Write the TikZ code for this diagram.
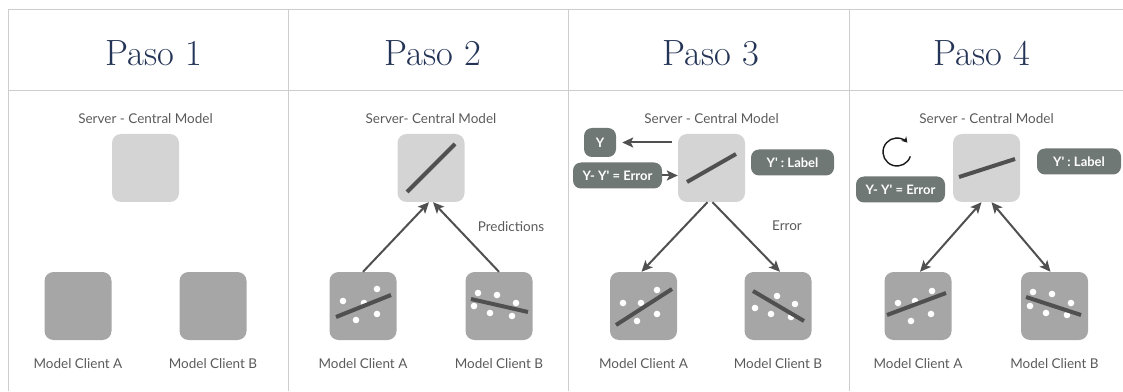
\documentclass[tikz,border=0pt]{standalone}
\usepackage{fontspec}
\newfontfamily\lato{Lato}
\usepackage{tikz}
\usepackage{xcolor}
\definecolor{GridGray}{RGB}{205,205,205}
\definecolor{HeadBlue}{RGB}{36,52,86}
\definecolor{ServerGray}{RGB}{212,212,212}
\definecolor{ClientGray}{RGB}{166,166,166}
\definecolor{TagGray}{RGB}{112,120,117}
\definecolor{InkGray}{RGB}{80,80,80}
\definecolor{TextGray}{RGB}{90,90,90}
\usetikzlibrary{positioning,arrows.meta}

\begin{document}
\begin{tikzpicture}[x=1pt, y=1pt,
    tabline/.style={draw=GridGray, line width=1pt},
    paso/.style={anchor=base, text=HeadBlue, font=\fontsize{36.5}{42}\selectfont},
    srv/.style={rectangle, fill=ServerGray, rounded corners=9pt,
              minimum width=67pt, minimum height=68pt, inner sep=0pt},
    cli/.style={rectangle, fill=ClientGray, rounded corners=9pt,
              minimum width=67pt, minimum height=68pt, inner sep=0pt},
    txt/.style={text=TextGray, inner sep=0pt, font=\lato\fontsize{13.5}{16}\selectfont},
    tagbox/.style={rectangle, fill=TagGray, rounded corners=8pt, minimum height=26pt,
              inner sep=0pt, text=white, font=\lato\bfseries\fontsize{13}{15}\selectfont},
    fitline/.style={draw=InkGray, line width=4pt},
    dot/.style={fill=white},
    a/.style={-{Stealth[length=11pt, width=10pt, inset=2.5pt]}, draw=InkGray, line width=2pt},
    aa/.style={{Stealth[length=11pt, width=10pt, inset=2.5pt]}-{Stealth[length=11pt, width=10pt, inset=2.5pt]},
              draw=InkGray, line width=2pt}
]
    \useasboundingbox (0,0) rectangle (1123,391);

    % table
    \draw[tabline] (8,381) -- (1123,381);
    \draw[tabline] (8,300) -- (1123,300);
    \foreach \x in {8,288,568,849}
        \draw[tabline] (\x,381) -- (\x,0);

    \node[paso] (h1) at (154,325) {Paso 1};
    \node[paso] (h2) at (433,325) {Paso 2};
    \node[paso] (h3) at (711,325) {Paso 3};
    \node[paso] (h4) at (982,325) {Paso 4};

    % Paso 1
    \node[srv] (srv1) at (145.5,223) {};
    \node[txt, above=10pt of srv1] (t1) {Server - Central Model};
    \node[cli] (cA1) at (78,85) {};
    \node[cli] (cB1) at (213,85) {};
    \node[txt, below=18pt of cA1] (lA1) {Model Client A};
    \node[txt, below=18pt of cB1] (lB1) {Model Client B};

    % Paso 2
    \node[srv] (srv2) at (431,223) {};
    \node[txt, above=10pt of srv2] (t2) {Server- Central Model};
    \node[cli] (cA2) at (363,85) {};
    \node[cli] (cB2) at (499,85) {};
    \node[txt, below=18pt of cA2] (lA2) {Model Client A};
    \node[txt, below=18pt of cB2] (lB2) {Model Client B};
    \draw[fitline] ([shift={(-24,-24)}]srv2.center) -- ([shift={(24,24)}]srv2.center);
    \begin{scope}[shift={(cA2.center)}]
        \foreach \px/\py in {-20/5, 1/3, 14/17, -7/-14, 14/-8}
            \fill[dot] (\px,\py) circle (3.3);
        \draw[fitline] (-27,-11) -- (28,11);
    \end{scope}
    \begin{scope}[shift={(cB2.center)}]
        \foreach \px/\py in {-21/13, -2/11, 17/3, -25/0, -9/-7, 13/-10}
            \fill[dot] (\px,\py) circle (3.3);
        \draw[fitline] (-28,7) -- (29,-6);
    \end{scope}
    \draw[a] (cA2.north) -- ([xshift=-2pt]srv2.south);
    \draw[a] (cB2.north) -- ([xshift=2pt]srv2.south);
    \node[txt] (pred) at (511,164) {Predictions};

    % Paso 3
    \node[srv] (srv3) at (711.5,223) {};
    \node[txt, above=10pt of srv3] (t3) {Server - Central Model};
    \node[cli] (cA3) at (643.5,85) {};
    \node[cli] (cB3) at (778,85) {};
    \node[txt, below=18pt of cA3] (lA3) {Model Client A};
    \node[txt, below=18pt of cB3] (lB3) {Model Client B};
    \draw[fitline] ([shift={(-24.5,-14)}]srv3.center) -- ([shift={(24.5,14)}]srv3.center);
    \begin{scope}[shift={(cA3.center)}]
        \foreach \px/\py in {-20.5/3, -2.5/3, 13.5/16, -6.5/-15, 13.5/-8}
            \fill[dot] (\px,\py) circle (3.3);
        \draw[fitline] (-27.5,-19) -- (28.5,17);
    \end{scope}
    \begin{scope}[shift={(cB3.center)}]
        \foreach \px/\py in {-1/10, -23/-2, -7/-8, 17/2, 13/-11}
            \fill[dot] (\px,\py) circle (3.3);
        \draw[fitline] (-25,15) -- (26,-15);
    \end{scope}
    \node[tagbox, minimum width=32pt, minimum height=29pt] (yv3) at (600,248.5) {Y};
    \node[tagbox, minimum width=89pt] (err3) at (617.5,215.5) {Y- Y\textquotesingle{} = Error};
    \node[tagbox, minimum width=83pt] (lab3) at (792.5,228.5) {Y\textquotesingle{} : Label};
    \draw[a, shorten <=6pt, shorten >=6pt] (srv3.west |- yv3) -- (yv3.east);
    \draw[a] (err3.east) -- (err3.east -| srv3.west);
    \draw[a] ([xshift=-4pt]srv3.south) -- ([xshift=-2pt]cA3.north);
    \draw[a] ([xshift=1pt]srv3.south) -- ([xshift=2pt]cB3.north);
    \node[txt] (errl) at (787,165) {Error};

    % Paso 4
    \node[srv] (srv4) at (986.5,223) {};
    \node[txt, above=10pt of srv4] (t4) {Server - Central Model};
    \node[cli] (cA4) at (918,85) {};
    \node[cli] (cB4) at (1054.5,85) {};
    \node[txt, below=18pt of cA4] (lA4) {Model Client A};
    \node[txt, below=18pt of cB4] (lB4) {Model Client B};
    \draw[fitline] ([shift={(-27.5,-9)}]srv4.center) -- ([shift={(28.5,9)}]srv4.center);
    \begin{scope}[shift={(cA4.center)}]
        \foreach \px/\py in {-20/3, -3/5, 14/15, -7/-15, 13/-8}
            \fill[dot] (\px,\py) circle (3.3);
        \draw[fitline] (-31,-9) -- (28,13);
    \end{scope}
    \begin{scope}[shift={(cB4.center)}]
        \foreach \px/\py in {-21.5/14, -2.5/12, 16.5/3, -24.5/0, -8.5/-7, 12.5/-9}
            \fill[dot] (\px,\py) circle (3.3);
        \draw[fitline] (-28.5,9) -- (26.5,-9);
    \end{scope}
    \node[tagbox, minimum width=89pt] (err4) at (900.5,201.5) {Y- Y\textquotesingle{} = Error};
    \node[tagbox, minimum width=84pt] (lab4) at (1079,229.5) {Y\textquotesingle{} : Label};
    \coordinate (cyc) at (897,239);
    \draw[black!90, line width=1.4pt, -{Stealth[length=5.5pt, width=6.5pt]}]
        ([shift={(-18:14)}]cyc) arc[start angle=-18, end angle=-318, radius=14];
    \draw[aa] ([xshift=2pt]cA4.north) -- ([xshift=-5pt]srv4.south);
    \draw[aa] ([xshift=-4pt]cB4.north) -- ([xshift=5pt]srv4.south);
\end{tikzpicture}
\end{document}
